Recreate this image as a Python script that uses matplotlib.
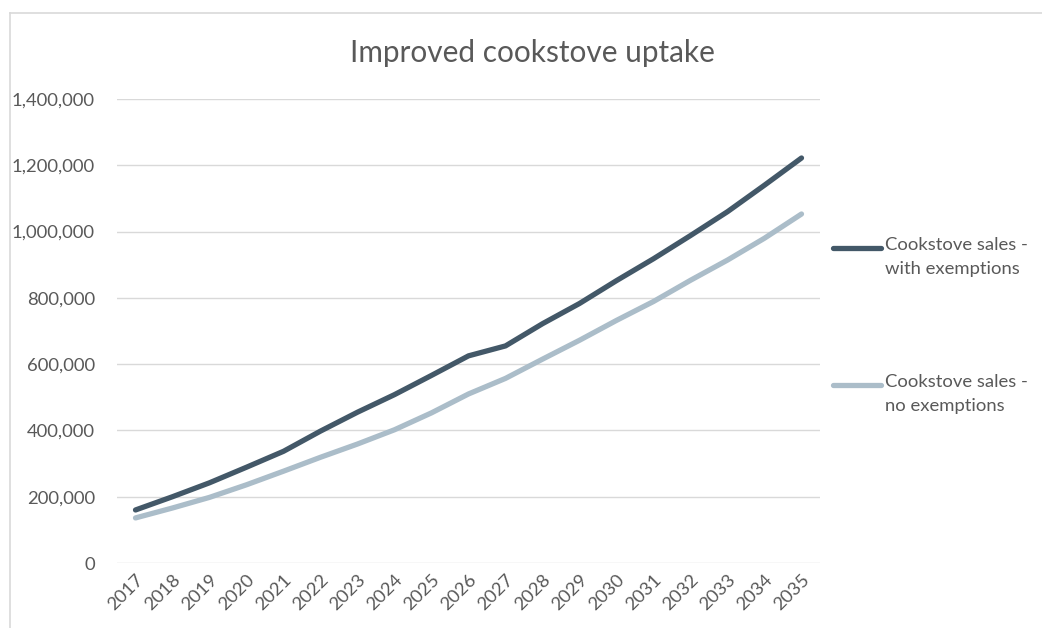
import matplotlib.pyplot as plt
from matplotlib.lines import Line2D
from matplotlib.ticker import FuncFormatter

plt.rcParams['font.family'] = ['Lato', 'DejaVu Sans']

years = list(range(2017, 2036))
with_exempt = [160000, 200000, 242000, 289000, 337000, 398000, 455000, 508000,
               566000, 625000, 655000, 722000, 783000, 852000, 918000, 988000,
               1060000, 1140000, 1222000]
no_exempt = [136000, 166000, 198000, 236000, 277000, 319000, 359000, 402000,
             453000, 510000, 557000, 615000, 672000, 732000, 789000, 853000,
             914000, 980000, 1053000]
series_names = ['Cookstove sales -\nwith exemptions', 'Cookstove sales -\nno exemptions']
colors = ['#435868', '#abbdc9']
text_col = '#595959'

fig = plt.figure(figsize=(10.42, 6.28), dpi=100)
ax = fig.add_axes([117 / 1042, 1 - 563 / 628, (820 - 117) / 1042, (563 - 99) / 628])

ax.plot(years, with_exempt, color=colors[0], linewidth=3.8, solid_capstyle='round')
ax.plot(years, no_exempt, color=colors[1], linewidth=3.8, solid_capstyle='round')

ax.set_ylim(0, 1400000)
ax.set_yticks(range(0, 1400001, 200000))
ax.yaxis.set_major_formatter(FuncFormatter(lambda v, p: f'{int(v):,}'))
ax.set_xlim(2016.5, 2035.5)
ax.set_xticks(years)
ax.set_xticklabels([str(y) for y in years], rotation=45, ha='right', rotation_mode='anchor')
ax.grid(axis='y', color='#d9d9d9', linewidth=1.0)
ax.set_axisbelow(True)
for s in ax.spines.values():
    s.set_visible(False)
ax.tick_params(length=0, labelsize=13.3, labelcolor=text_col)
ax.tick_params(axis='y', pad=16)
ax.tick_params(axis='x', pad=6)

fig.text(532 / 1042, 1 - 53 / 628, 'Improved cookstove uptake', ha='center', va='center',
         fontsize=21.4, color=text_col)

# legend, drawn by hand so the handle lines up with the first text line
for name, col, ly in zip(series_names, colors, [248, 385]):
    fig.add_artist(Line2D([833 / 1042, 881 / 1042], [1 - ly / 628] * 2, color=col,
                          linewidth=3.8, solid_capstyle='round'))
    fig.text(885 / 1042, 1 - (ly - 11) / 628, name, ha='left', va='top',
             fontsize=13.3, color=text_col, linespacing=1.6)

# chart frame (top and left edges visible)
fig.add_artist(Line2D([10 / 1042, 1.0], [1 - 13 / 628] * 2, color='#d9d9d9', linewidth=1.2))
fig.add_artist(Line2D([10 / 1042] * 2, [0, 1 - 13 / 628], color='#d9d9d9', linewidth=1.2))

fig.savefig('out.png', dpi=100)
